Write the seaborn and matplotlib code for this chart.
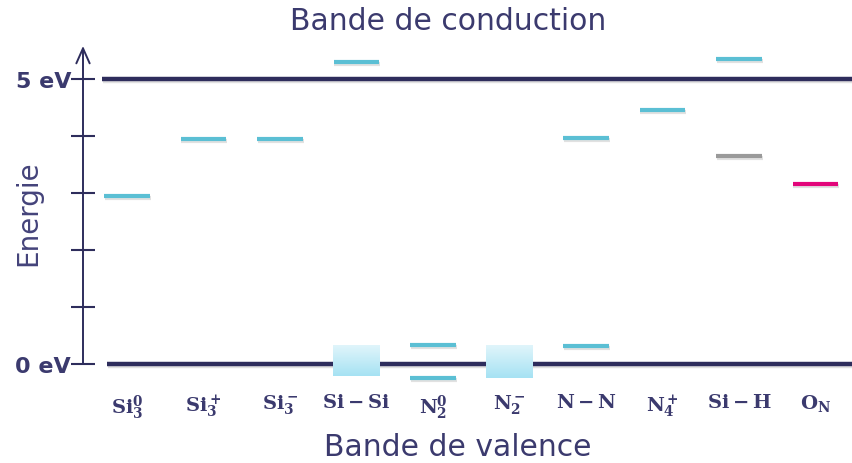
import numpy as np
import pandas as pd
import matplotlib
matplotlib.use("Agg")
import matplotlib.pyplot as plt
import matplotlib.patheffects as pe
import seaborn as sns

# ------------- Data -------------
defects = [r"$\mathbf{Si_3^0}$", r"$\mathbf{Si_3^+}$", r"$\mathbf{Si_3^-}$",
           r"$\mathbf{Si-Si}$", r"$\mathbf{N_2^0}$", r"$\mathbf{N_2^-}$",
           r"$\mathbf{N-N}$", r"$\mathbf{N_4^+}$", r"$\mathbf{Si-H}$",
           r"$\mathbf{O_N}$"]

# defect level energies (eV above valence band)
level_defect = [0, 1, 2, 3, 4, 4, 6, 6, 7, 8, 8, 9]
level_energy = [2.95, 3.95, 3.95, 5.30, 0.33, -0.25, 3.96, 0.32, 4.46, 5.35, 3.65, 3.16]
level_kind = ["cyan"] * 9 + ["cyan", "gray", "pink"]

# band-like states near the valence band edge
band_defect = [3, 5]
band_low = [-0.21, -0.25]
band_high = [0.32, 0.32]

gap_ticks = [0, 1, 2, 3, 4, 5]

levels = pd.DataFrame({"defect": level_defect, "energy": level_energy, "kind": level_kind})

# ------------- Style -------------
navy = "#2e2d5c"
text_c = "#3b3a6e"
palette = {"cyan": "#5bbfd4", "gray": "#9a9a9a", "pink": "#e2057a"}

sns.set_theme(style="white")
plt.rcParams["font.family"] = ["DejaVu Sans"]
plt.rcParams["mathtext.fontset"] = "dejavuserif"

fig = plt.figure(figsize=(8.52, 4.64), dpi=100)
W, H = 852, 464
ppu_x = 76.5
x0_px = 127
ax_left_px, ax_right_px = 83, 852
y0_px, ppu_y = 365, 57.0
ylo, yhi = -0.5, 5.6
ax = fig.add_axes([ax_left_px / W, (H - (y0_px - ylo * ppu_y)) / H,
                   (ax_right_px - ax_left_px) / W, (yhi - ylo) * ppu_y / H])
ax.set_xlim((ax_left_px - x0_px) / ppu_x, (ax_right_px - x0_px) / ppu_x)
ax.set_ylim(ylo, yhi)

shadow = [pe.SimpleLineShadow(offset=(0.5, -1.5), shadow_color="k", alpha=0.13), pe.Normal()]

# band edges
for e, start in [(5, 0.025), (0, 0.031)]:
    ax.axhline(e, xmin=start, xmax=1, color=navy, lw=3.2, zorder=2,
               path_effects=shadow, solid_capstyle="butt")

# band-like boxes with vertical gradient
grad = np.linspace(0, 1, 64).reshape(-1, 1)
cmap = matplotlib.colors.LinearSegmentedColormap.from_list("b", ["#a6e2f3", "#e0f5fb"])
for d, lo, hi in zip(band_defect, band_low, band_high):
    ax.imshow(grad, extent=(d - 0.305, d + 0.305, lo, hi), origin="lower",
              cmap=cmap, aspect="auto", zorder=3)
ax.set_aspect("auto")

# defect levels
hw = 0.3
for kind, grp in levels.groupby("kind"):
    ax.hlines(grp["energy"], grp["defect"] - hw, grp["defect"] + hw,
              color=palette[kind], lw=3.0, zorder=4, path_effects=shadow)

# energy axis with arrow
sns.despine(ax=ax, left=True, bottom=True)
ax.annotate("", xy=(ax.get_xlim()[0], 5.58), xytext=(ax.get_xlim()[0], 0),
            xycoords="data", arrowprops=dict(arrowstyle="->,head_length=0.9,head_width=0.4",
                                             color=navy, lw=1.4, shrinkA=0, shrinkB=0),
            zorder=5, annotation_clip=False)
ax.set_yticks(gap_ticks)
ax.set_yticklabels(["0 eV", "", "", "", "", "5 eV"])
ax.tick_params(axis="y", direction="inout", length=17, width=1.5, color=navy,
               labelcolor=text_c, labelsize=16, pad=0, left=True)
for t in ax.get_yticklabels():
    t.set_fontweight("bold")
ax.set_xticks(range(len(defects)))
ax.set_xticklabels(defects, fontsize=14, color=text_c)
ax.tick_params(axis="x", length=0, pad=0)
ax.grid(False)

fig.text(28 / W, 1 - 213 / H, "Energie", rotation=90, ha="center", va="center",
         fontsize=20, color="#44437a")
fig.text(448 / W, 1 - 21 / H, "Bande de conduction", ha="center", va="center",
         fontsize=21.5, color=text_c)
fig.text(458 / W, 1 - 448 / H, "Bande de valence", ha="center", va="center",
         fontsize=21.5, color=text_c)

fig.savefig("out.png", dpi=100)
